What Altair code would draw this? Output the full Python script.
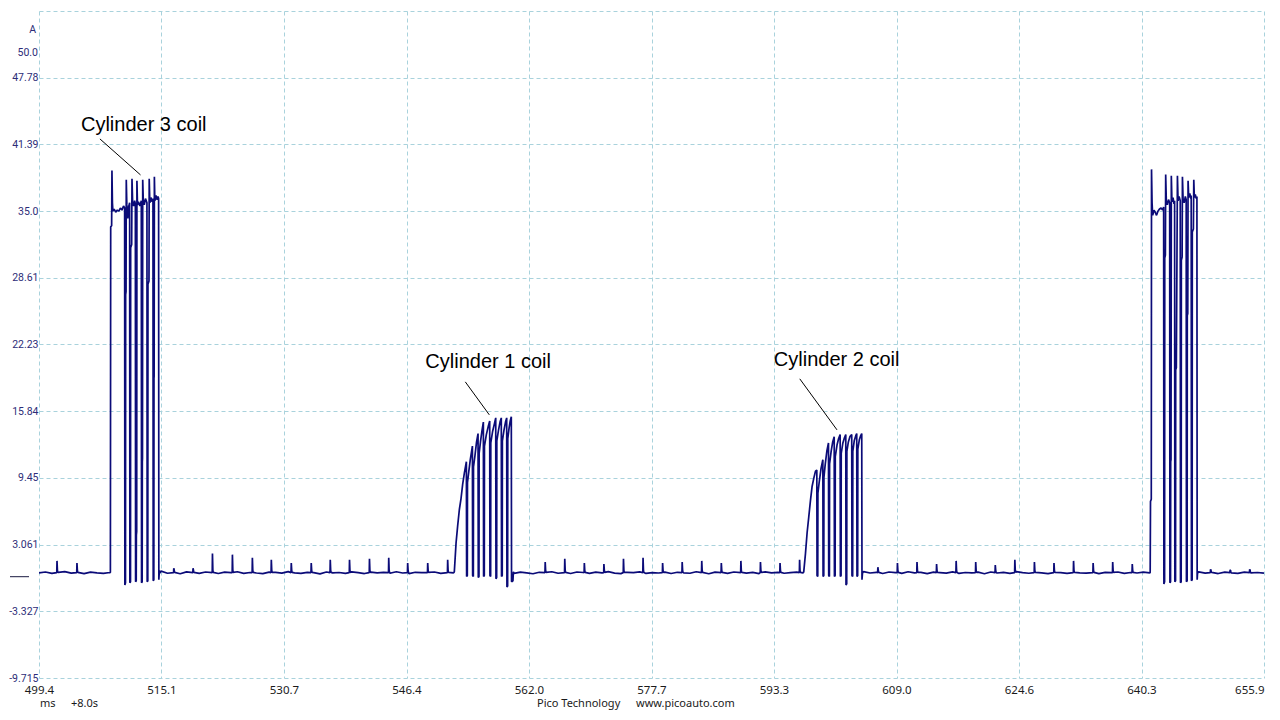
import altair as alt
import numpy as np
import pandas as pd

# ---------------- axis ticks / labels ----------------
X_TICKS = [499.4, 515.05, 530.7, 546.35, 562.0, 577.65, 593.3, 608.95, 624.6, 640.25, 655.9]
X_LABELS = ["499.4", "515.1", "530.7", "546.4", "562.0", "577.7", "593.3", "609.0", "624.6", "640.3", "655.9"]
Y_TICKS = [-9.715, -3.327, 3.061, 9.45, 15.84, 22.23, 28.61, 35.0, 41.39, 47.78, 54.17]
Y_LABELS = ["-9.715", "-3.327", "3.061", "9.45", "15.84", "22.23", "28.61", "35.0", "41.39", "47.78", ""]

# ---------------- baseline segments (start ms, end ms, sampled values A) ----------------
SEG_A = (499.40, 508.45, [0.36, 0.44, 0.30, 0.40, 0.47, 0.33, 0.41, 0.28, 0.43, 0.36, 0.31, 0.39])
SEG_B = (515.00, 552.35, [0.52, 0.32, 0.40, 0.27, 0.45, 0.38, 0.30, 0.44, 0.35, 0.29, 0.42, 0.37, 0.46, 0.31,
                          0.39, 0.34, 0.28, 0.43, 0.40, 0.33, 0.47, 0.36, 0.30, 0.41, 0.38, 0.26, 0.44, 0.35,
                          0.39, 0.31, 0.45, 0.37, 0.29, 0.42, 0.36, 0.40, 0.32, 0.46, 0.34, 0.28, 0.41, 0.38,
                          0.33, 0.44, 0.30, 0.39, 0.36])
SEG_C = (560.10, 597.00, [0.30, 0.43, 0.35, 0.27, 0.41, 0.38, 0.46, 0.32, 0.36, 0.29, 0.44, 0.39, 0.31, 0.42,
                          0.35, 0.47, 0.33, 0.28, 0.40, 0.37, 0.45, 0.30, 0.38, 0.34, 0.43, 0.29, 0.41, 0.36,
                          0.32, 0.46, 0.39, 0.27, 0.42, 0.35, 0.31, 0.44, 0.38, 0.33, 0.40, 0.29, 0.45, 0.36,
                          0.41, 0.32, 0.38, 0.43, 0.35])
SEG_D = (604.75, 641.30, [0.48, 0.34, 0.41, 0.29, 0.44, 0.37, 0.31, 0.46, 0.35, 0.40, 0.28, 0.43, 0.38, 0.33,
                          0.45, 0.30, 0.39, 0.36, 0.42, 0.27, 0.44, 0.34, 0.40, 0.31, 0.47, 0.37, 0.32, 0.41,
                          0.35, 0.29, 0.43, 0.38, 0.30, 0.45, 0.36, 0.33, 0.42, 0.28, 0.40, 0.37, 0.44, 0.31,
                          0.39, 0.34, 0.42, 0.36])
SEG_E = (647.55, 655.90, [0.45, 0.33, 0.40, 0.29, 0.43, 0.36, 0.31, 0.42, 0.35, 0.39, 0.33])

# ---------------- small baseline spikes (time ms, peak A) ----------------
SPIKE_T = [501.70, 504.25,
           516.62, 519.08, 521.56, 524.11, 526.66, 529.08, 531.63, 534.18, 536.61, 539.07, 541.62, 544.08,
           546.50, 549.06, 551.61,
           564.07, 566.57, 569.07, 571.57, 574.07, 576.57, 579.07, 581.57, 584.07, 586.57, 589.07, 591.57,
           594.07, 596.57,
           606.57, 609.07, 611.57, 614.07, 616.57, 619.07, 621.57, 624.07, 626.57, 629.07, 631.57, 634.07,
           636.57, 639.07,
           649.07, 651.57, 654.07]
SPIKE_V = [1.5, 1.3,
           0.8, 0.8, 2.2, 2.1, 1.8, 1.6, 1.3, 1.3, 1.6, 1.6, 1.7, 1.8,
           1.3, 1.3, 1.6,
           1.4, 1.7, 1.3, 1.2, 1.7, 1.8, 1.3, 1.4, 1.5, 1.3, 1.5, 1.4,
           1.3, 1.6,
           0.9, 1.3, 1.4, 1.2, 1.5, 1.4, 1.1, 1.6, 1.4, 1.3, 1.5, 1.3,
           1.4, 1.2,
           0.7, 0.6, 0.7]

# ---------------- coil bursts (time ms, current A) ----------------
CYL3A = [(508.52, 0.38), (508.56, 33.5), (508.68, 33.6), (508.72, 38.9), (508.78, 35.8), (508.84, 35.0),
         (509.00, 35.2), (509.20, 34.9), (509.40, 35.1), (509.60, 35.0), (509.80, 35.3), (510.00, 35.1),
         (510.20, 35.5), (510.34, 35.3),
         (510.37, -0.8), (510.45, -0.6), (510.47, 27.0), (510.52, 27.3), (510.55, 38.0), (510.62, 35.6),
         (510.75, 34.3), (510.85, 35.4), (510.98, 35.8),
         (511.01, -0.6), (511.09, -0.5), (511.11, 31.5), (511.24, 31.8), (511.28, 38.1), (511.36, 35.9),
         (511.50, 35.5), (511.62, 36.0), (511.71, 35.7),
         (511.74, -0.5), (511.82, -0.4), (511.84, 4.0), (511.88, 4.3), (511.91, 37.9), (511.98, 35.6),
         (512.10, 35.9), (512.30, 35.5), (512.47, 36.0),
         (512.50, -0.6), (512.58, -0.5), (512.60, 11.0), (512.62, 11.3), (512.65, 38.0), (512.72, 36.1),
         (512.85, 35.6), (513.00, 36.2), (513.19, 35.8),
         (513.22, -0.5), (513.30, -0.4), (513.32, 28.0), (513.45, 28.3), (513.48, 38.1), (513.56, 35.8),
         (513.70, 36.3), (513.85, 35.9), (513.96, 36.2),
         (513.99, -0.4), (514.07, -0.3), (514.09, 19.0), (514.11, 19.2), (514.14, 38.3), (514.20, 36.0),
         (514.35, 36.5), (514.50, 36.1), (514.60, 36.4), (514.68, 36.2),
         (514.71, -0.3), (514.78, 0.6), (514.85, 0.35)]

CYL1 = [(552.40, 0.38), (552.46, 0.45), (552.68, 3.2), (552.88, 4.8), (553.10, 6.4), (553.32, 7.5),
        (553.52, 8.8), (553.74, 9.9), (554.00, 11.0),
        (554.03, 0.0), (554.12, 0.1), (554.14, 9.0), (554.30, 10.0), (554.50, 11.2), (554.77, 12.5),
        (554.80, 0.1), (554.89, 0.0), (554.91, 10.5), (555.10, 11.6), (555.30, 12.9), (555.49, 13.7),
        (555.52, -0.1), (555.61, 0.0), (555.63, 11.8), (555.80, 12.9), (556.00, 14.0), (556.17, 14.8),
        (556.20, 0.0), (556.29, 0.1), (556.31, 12.5), (556.55, 13.6), (556.80, 14.4), (556.98, 14.9),
        (557.01, 0.1), (557.10, 0.0), (557.12, 12.8), (557.35, 13.9), (557.60, 14.7), (557.75, 15.2),
        (557.78, -0.2), (557.87, -0.1), (557.89, 13.0), (558.10, 14.0), (558.30, 14.8), (558.46, 15.2),
        (558.49, 0.0), (558.58, 0.1), (558.60, 13.0), (558.80, 14.0), (559.00, 14.8), (559.15, 15.2),
        (559.18, -1.0), (559.27, -0.9), (559.29, 13.2), (559.45, 14.2), (559.60, 14.9), (559.74, 15.3),
        (559.77, -0.5), (559.95, -0.4), (560.00, 0.45)]

CYL2 = [(597.05, 0.38), (597.10, 0.45), (597.32, 2.2), (597.53, 4.2), (597.74, 5.7), (597.96, 7.3),
        (598.16, 8.6), (598.38, 9.4), (598.60, 10.1), (598.77, 10.2),
        (598.80, 0.1), (598.89, 0.0), (598.91, 8.0), (599.10, 9.2), (599.30, 10.3), (599.54, 11.2),
        (599.57, 0.0), (599.66, 0.1), (599.68, 9.5), (599.85, 10.8), (600.05, 12.0), (600.26, 12.8),
        (600.29, 0.1), (600.38, 0.0), (600.40, 10.8), (600.60, 12.0), (600.80, 12.9), (600.99, 13.4),
        (601.02, 0.0), (601.11, 0.1), (601.13, 11.5), (601.35, 12.6), (601.55, 13.2), (601.75, 13.6),
        (601.78, 0.0), (601.87, 0.1), (601.89, 11.8), (602.10, 12.8), (602.30, 13.3), (602.47, 13.6),
        (602.50, -0.8), (602.59, -0.7), (602.61, 12.0), (602.80, 12.9), (603.00, 13.4), (603.23, 13.6),
        (603.26, 0.1), (603.35, 0.0), (603.37, 12.0), (603.55, 13.0), (603.75, 13.5), (603.87, 13.7),
        (603.90, 0.0), (603.99, 0.1), (604.01, 12.2), (604.20, 13.1), (604.38, 13.5), (604.51, 13.7),
        (604.54, -0.3), (604.60, 0.3), (604.65, 0.4)]

CYL3B = [(641.36, 0.38), (641.40, 7.2), (641.50, 7.4), (641.53, 39.0), (641.60, 35.8), (641.68, 34.6),
         (641.85, 35.1), (642.00, 34.9), (642.17, 34.6), (642.35, 35.0), (642.55, 35.2), (642.75, 35.3),
         (642.95, 35.1), (643.08, 35.4),
         (643.11, -0.7), (643.20, -0.5), (643.22, 30.5), (643.30, 30.8), (643.34, 38.5), (643.42, 36.0),
         (643.55, 35.6), (643.70, 36.1), (643.85, 35.8),
         (643.88, -0.6), (643.96, -0.5), (643.98, 11.0), (644.02, 11.2), (644.06, 38.4), (644.14, 35.9),
         (644.28, 36.3), (644.40, 35.7), (644.48, 36.0),
         (644.51, -0.5), (644.60, -0.4), (644.62, 19.8), (644.70, 20.0), (644.84, 38.4), (644.92, 36.0),
         (645.05, 36.4), (645.20, 36.0),
         (645.23, -0.6), (645.32, -0.5), (645.34, 30.3), (645.44, 30.6), (645.48, 38.3), (645.56, 36.2),
         (645.70, 35.8), (645.85, 36.4), (645.96, 36.1),
         (645.99, -0.5), (646.08, -0.4), (646.10, 25.0), (646.16, 25.2), (646.20, 37.9), (646.28, 36.3),
         (646.42, 36.7), (646.55, 36.2), (646.60, 36.5),
         (646.63, -0.4), (646.72, -0.3), (646.74, 33.0), (646.88, 33.3), (646.93, 38.0), (647.00, 36.3),
         (647.12, 36.6), (647.25, 36.2), (647.33, 36.4),
         (647.36, -0.3), (647.42, 0.5), (647.48, 0.35)]

# ---------------- annotations ----------------
ANNOT_TEXT = ["Cylinder 3 coil", "Cylinder 1 coil", "Cylinder 2 coil"]
ANNOT_T = [504.76, 548.76, 593.28]
ANNOT_V = [43.27, 20.56, 20.75]
LEADER_T1 = [507.18, 553.86, 596.59]
LEADER_V1 = [41.92, 18.65, 18.94]
LEADER_T2 = [512.37, 556.93, 601.35]
LEADER_V2 = [38.47, 15.49, 14.05]

# ---------------- build trace table ----------------
rows = []
spike_arr = np.array(SPIKE_T)
for start, end, vals in [SEG_A, SEG_B, SEG_C, SEG_D, SEG_E]:
    ts = np.linspace(start, end, len(vals))
    for t, v in zip(ts, vals):
        if np.min(np.abs(spike_arr - t)) > 0.14:
            rows.append((float(t), v))
for t, p in zip(SPIKE_T, SPIKE_V):
    rows += [(t - 0.03, 0.38), (t, p), (t + 0.05, 0.62), (t + 0.1, 0.40)]
for burst in [CYL3A, CYL1, CYL2, CYL3B]:
    rows += burst
trace = pd.DataFrame(rows, columns=["t", "v"]).sort_values("t").reset_index(drop=True)

TRACE_COLOR = "#0b0b78"
GRID_COLOR = "#a9d2dc"
AXIS_FONT = "Noto Sans"
Y_FONT = "Roboto"
Y_COLOR = "#2d2d78"

x_expr = "[" + ",".join(f"'{s}'" for s in X_LABELS) + "][indexof([" + ",".join(repr(v) for v in X_TICKS) + "], datum.value)]"
y_expr = "[" + ",".join(f"'{s}'" for s in Y_LABELS) + "][indexof([" + ",".join(repr(v) for v in Y_TICKS) + "], datum.value)]"

x_scale = alt.Scale(domain=[499.4, 655.9], nice=False, zero=False)
y_scale = alt.Scale(domain=[-9.715, 54.17], nice=False, zero=False)

line = alt.Chart(trace).mark_line(color=TRACE_COLOR, strokeWidth=1.7, strokeJoin="bevel", clip=True).encode(
    x=alt.X("t:Q", scale=x_scale, title=None,
            axis=alt.Axis(values=X_TICKS, labelExpr=x_expr, grid=True, gridColor=GRID_COLOR,
                          gridDash=[4, 3], gridWidth=1, ticks=False, domain=False,
                          labelFont=AXIS_FONT, labelFontSize=11.5, labelColor="#1a1a1a",
                          labelPadding=6.5, labelFlush=False,
                          labelAlign={"condition": {"test": "datum.value > 655", "value": "right"},
                                      "value": "center"})),
    y=alt.Y("v:Q", scale=y_scale, title=None,
            axis=alt.Axis(values=Y_TICKS, labelExpr=y_expr, grid=True, gridColor=GRID_COLOR,
                          gridDash=[4, 3], gridWidth=1, ticks=False, domain=False,
                          labelFont=Y_FONT, labelFontSize=10.5, labelColor=Y_COLOR,
                          labelPadding=1, labelFlush=False)),
    order="t:Q",
)

annot_df = pd.DataFrame({"label": ANNOT_TEXT, "t": ANNOT_T, "v": ANNOT_V})
leader_df = pd.DataFrame({"t1": LEADER_T1, "v1": LEADER_V1, "t2": LEADER_T2, "v2": LEADER_V2})

leaders = alt.Chart(leader_df).mark_rule(color="#000000", strokeWidth=1).encode(
    x=alt.X("t1:Q", scale=x_scale), y=alt.Y("v1:Q", scale=y_scale), x2="t2:Q", y2="v2:Q")

labels = alt.Chart(annot_df).mark_text(align="left", baseline="middle", font="Liberation Sans",
                                       fontSize=20, color="#000000").encode(
    x=alt.X("t:Q", scale=x_scale), y=alt.Y("v:Q", scale=y_scale), text="label:N")

one = pd.DataFrame({"k": [0]})


def static_text(txt, x, y, font=AXIS_FONT, size=11, color="#1a1a1a", align="left", baseline="alphabetic"):
    return alt.Chart(one).mark_text(align=align, baseline=baseline, font=font, fontSize=size,
                                    color=color).encode(x=alt.value(x), y=alt.value(y), text=alt.value(txt))


unit_a = static_text("A", -3, 19, font=Y_FONT, size=10.5, color=Y_COLOR, align="right", baseline="middle")
fifty = static_text("50.0", -1, 42, font=Y_FONT, size=10.5, color=Y_COLOR, align="right", baseline="middle")
zero_mark = alt.Chart(one).mark_rule(color="#1a1a40", strokeWidth=1).encode(
    x=alt.value(-29), x2=alt.value(-10), y=alt.value(565.7))
foot_ms = static_text("ms", 1, 696)
foot_off = static_text("+8.0s", 32, 696)
foot_pico = static_text("Pico Technology", 498, 696)
foot_web = static_text("www.picoauto.com", 597, 696)

chart = alt.layer(line, leaders, labels, unit_a, fifty, zero_mark,
                  foot_ms, foot_off, foot_pico, foot_web).properties(
    width=1225, height=667,
    autosize=alt.AutoSizeParams(type="none"),
    padding={"left": 31, "top": 3, "right": 8, "bottom": 33},
    background="#ffffff",
).configure_view(stroke=None)

chart.save("out.html", embed_options={"renderer": "svg", "actions": False})
